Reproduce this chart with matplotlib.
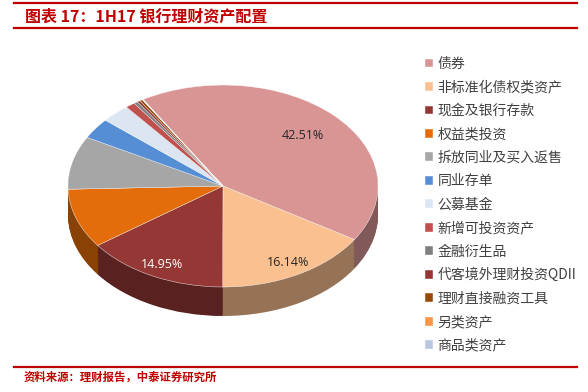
import matplotlib
matplotlib.use("Agg")
import matplotlib.pyplot as plt
import numpy as np
from matplotlib.colors import to_rgb
from matplotlib.lines import Line2D

plt.rcParams["font.family"] = ["Noto Sans CJK SC", "DejaVu Sans"]

categories = [
    "债券", "非标准化债权类资产", "现金及银行存款", "权益类投资",
    "拆放同业及买入返售", "同业存单", "公募基金", "新增可投资资产",
    "金融衍生品", "代客境外理财投资QDII", "理财直接融资工具", "另类资产",
    "商品类资产",
]
shares = [42.51, 16.14, 14.95, 9.5, 8.5, 3.3, 3.0, 1.0, 0.4, 0.3, 0.3, 0.05, 0.05]
colors = [
    "#D99594", "#FAC090", "#953735", "#E46C0A", "#A6A6A6", "#558ED5",
    "#DCE6F2", "#C0504D", "#7F7F7F", "#943634", "#984807", "#F79646",
    "#B9C7E0",
]
shown_labels = {0: "42.51%", 1: "16.14%", 2: "14.95%"}
label_colors = {0: "#262626", 1: "#262626", 2: "white"}

W, H = 588, 392
fig = plt.figure(figsize=(W / 100, H / 100), dpi=100)

# pie geometry in pixels
cx, cy = 223, 186
rx, ry = 155, 101
depth = 29 / ry

left = cx - 1.2 * rx
bottom = (H - cy) - 1.6 * ry
ax = fig.add_axes([left / W, bottom / H, 2.4 * rx / W, 2.8 * ry / H])

startangle = 121
side_colors = [tuple(c * 0.6 for c in to_rgb(col)) for col in colors]
n_layers = 30
for i in range(n_layers):
    off = -depth + depth * i / n_layers
    ax.pie(shares, colors=side_colors, startangle=startangle, counterclock=False,
           center=(0, off), radius=1, wedgeprops=dict(linewidth=0))

wedges, _ = ax.pie(shares, colors=colors, startangle=startangle, counterclock=False,
                   center=(0, 0), radius=1,
                   wedgeprops=dict(linewidth=0.3, edgecolor="white"))

# percentage labels
theta = startangle
dist = {0: 0.72, 1: 0.87, 2: 0.87}
for i, s in enumerate(shares):
    mid = theta - s * 3.6 / 2
    theta -= s * 3.6
    if i in shown_labels:
        r = dist[i]
        ax.text(r * np.cos(np.radians(mid)), r * np.sin(np.radians(mid)),
                shown_labels[i], ha="center", va="center", fontsize=9,
                color=label_colors[i], family=["Open Sans", "DejaVu Sans"])

ax.set_aspect("auto")
ax.set_xlim(-1.2, 1.2)
ax.set_ylim(-1.6, 1.2)
ax.axis("off")

leg = fig.legend(wedges, categories, loc="upper left",
                 bbox_to_anchor=(418 / W, 1 - 50 / H), frameon=False,
                 fontsize=10, handlelength=0.6, handleheight=0.6,
                 handletextpad=0.3, labelspacing=0.68, borderpad=0)
for t in leg.get_texts():
    t.set_color("#404040")

# title, rules and source
red = "#C00000"
for y in (3, 28, 367):
    fig.add_artist(Line2D([14 / W, 577 / W], [1 - y / H, 1 - y / H],
                          transform=fig.transFigure, color=red, linewidth=1.6))
fig.text(25 / W, 1 - 16 / H, "图表 17：1H17 银行理财资产配置", fontsize=11.5,
         fontweight="bold", style="italic", color=red, va="center")
fig.text(24 / W, 1 - 377 / H, "资料来源：理财报告，中泰证券研究所", fontsize=8.2,
         fontweight="bold", color=red, va="center")

fig.savefig("out.png", dpi=100)
